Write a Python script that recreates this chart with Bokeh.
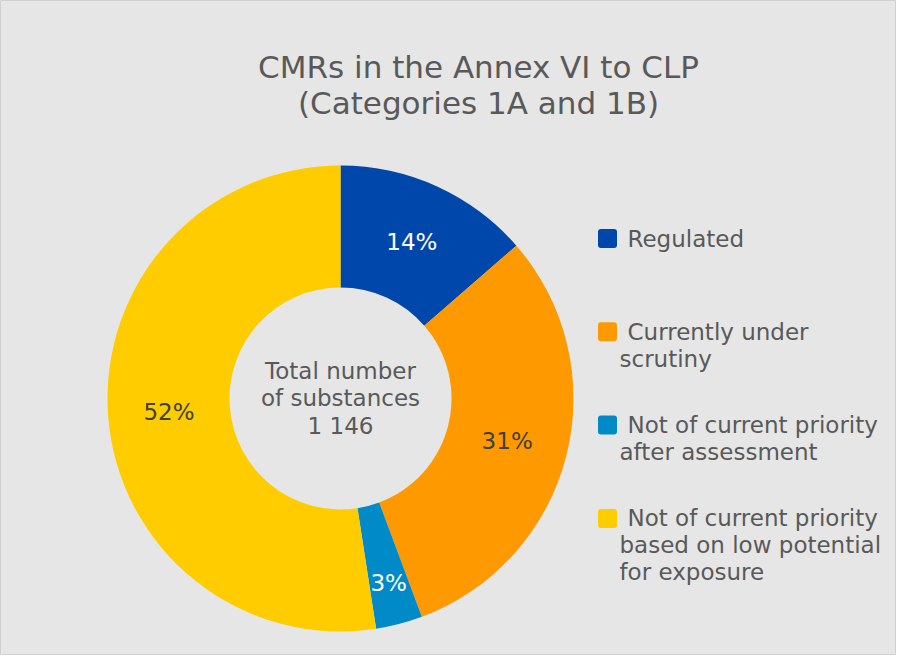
import math
from bokeh.plotting import figure
from bokeh.models import Range1d, ColumnDataSource
from bokeh.embed import file_html
from bokeh.resources import INLINE
from bokeh.core.properties import value

# ---- data ----
categories = ["Regulated", "Currently under\nscrutiny",
              "Not of current priority\nafter assessment",
              "Not of current priority\nbased on low potential\nfor exposure"]
counts = [156, 352, 37, 601]
colors = ["#0047AB", "#FF9900", "#008AC8", "#FFCC00"]
label_colors = ["white", "#404040", "white", "#404040"]
title_lines = ["CMRs in the Annex VI to CLP", "(Categories 1A and 1B)"]
center_lines = ["Total number", "of substances", "1 146"]

W, H = 896, 655
FONT = "DejaVu Sans"
TXT = "#595959"
BG = "#E6E6E6"

p = figure(width=W, height=H, output_backend="svg", toolbar_location=None,
           x_range=Range1d(0, W), y_range=Range1d(0, H),
           min_border=0, background_fill_color=BG, border_fill_color=BG)
p.axis.visible = False
p.grid.visible = False
p.outline_line_color = "#D0D0D0"

def sy(y):
    return H - y

cx, cy = 340, sy(398)
r_in, r_out = 111, 233

total = sum(counts)
starts, ends, mids, pcts = [], [], [], []
cum = 0
for c in counts:
    a0 = math.pi / 2 - 2 * math.pi * cum / total
    cum += c
    a1 = math.pi / 2 - 2 * math.pi * cum / total
    starts.append(a0)
    ends.append(a1)
    mids.append((a0 + a1) / 2)
    pcts.append(f"{round(100 * c / total)}%")

src = ColumnDataSource(dict(start=starts, end=ends, color=colors))
p.annular_wedge(x=cx, y=cy, inner_radius=r_in, outer_radius=r_out,
                start_angle="start", end_angle="end", direction="clock",
                fill_color="color", line_color=None, source=src)

# percentage labels
lx, ly = [], []
for m, c in zip(mids, counts):
    rr = (r_in + r_out) / 2 + (19 if c / total < 0.05 else 0)
    lx.append(cx + rr * math.cos(m))
    ly.append(cy + rr * math.sin(m))
p.text(x=lx, y=ly, text=pcts, text_color=label_colors,
       text_font=value(FONT), text_font_size="23px",
       text_align="center", text_baseline="middle")

# title
for i, t in enumerate(title_lines):
    p.text(x=[478], y=[sy(66 + 36 * i)], text=[t], text_color=TXT,
           text_font=value(FONT), text_font_size="31px",
           text_align="center", text_baseline="middle")

# center text
for i, t in enumerate(center_lines):
    p.text(x=[cx], y=[sy(370 + 27.5 * i)], text=[t], text_color=TXT,
           text_font=value(FONT), text_font_size="23px",
           text_align="center", text_baseline="middle")

# legend
for i, (cat, col) in enumerate(zip(categories, colors)):
    y0 = 238 + 93.3 * i
    p.rect(x=[607], y=[sy(y0)], width=19, height=19, fill_color=col,
           line_color=None, border_radius=3)
    for j, line in enumerate(cat.split("\n")):
        xx = 627 if j == 0 else 619
        p.text(x=[xx], y=[sy(y0 + 27 * j)], text=[line], text_color=TXT,
               text_font=value(FONT), text_font_size="23px",
               text_align="left", text_baseline="middle")

open("out.html", "w").write(file_html(p, INLINE))
